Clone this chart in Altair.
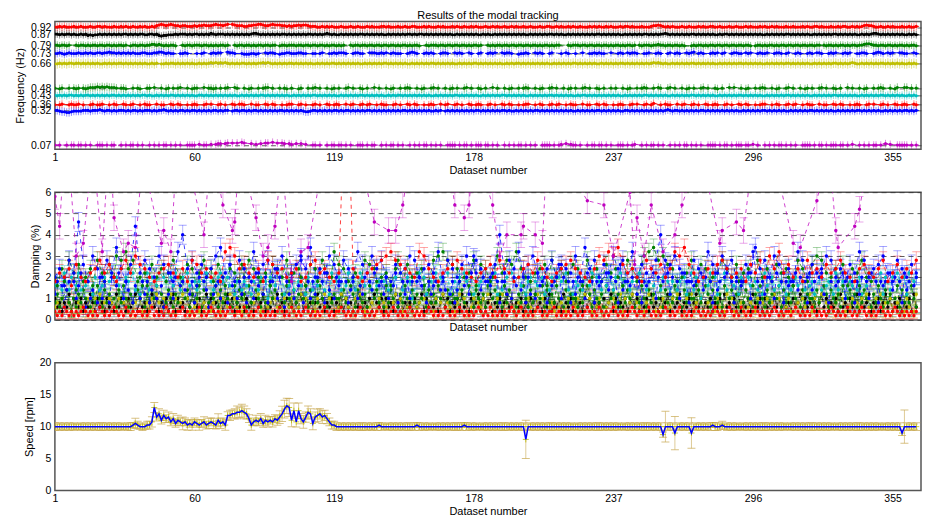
import altair as alt
import pandas as pd

N_SETS = 365
x_ticks = [1, 60, 119, 178, 237, 296, 355]
mode_labels = ["0.92", "0.87", "0.79", "0.73", "0.66", "0.48", "0.43", "0.36", "0.32", "0.07"]
mode_freqs = [0.92, 0.87, 0.79, 0.73, 0.66, 0.48, 0.43, 0.36, 0.32, 0.07]
mode_colors = ["#ff0000", "#000000", "#008000", "#0000ff", "#bfbf00",
               "#008000", "#00bfbf", "#ff0000", "#0000ff", "#bf00bf"]
freq_err = [0.03, 0.028, 0.028, 0.028, 0.035, 0.03, 0.028, 0.028, 0.03, 0.028]
damp_err = [0.15, 0.25, 0.3, 0.35, 0.3, 0.4, 0.35, 0.4, 0.45, 0.6]
damp_ticks = [0, 1, 2, 3, 4, 5, 6]
speed_ticks = [0, 5, 10, 15, 20]

# frequency: digit d -> mode + (d-5)*0.005 Hz ; "." = mode not identified
FREQ_STEP = 0.005
freq_092 = """5565655565 5655565566 5655565565 6556556565 5657898789 8776776667 6778777898 8789.98777
6677889987 7898887767 6778788766 6556565655 5655565565 5565655566 5655565565 5665556565 5565655565
6556556565 5565565655 6556565565 5655565566 5565655656 5565556565 6556565556 5665655565 5567787656
5655565565 5565655665 5655565565 5565655565 6556565556 5565556565 5665655565 5656655656 5678776556
5565655565 56556"""
freq_087 = """5545455454 4545343445 4545454545 5454545544 5545323344 4545554545 5454546545 5545454545
4545665454 5454545545 4545454554 5454565454 4545454545 5454545454 4545454545 5454554545 4545454544
5454545454 4545445454 5454545454 4545454545 5454544545 4545454545 5454545454 4545454545 5454545565
4545454545 5454545454 4545545454 5454545454 4545454545 5454545454 4545454545 5454545454 4545456654
5454545454 45454"""
freq_079 = """5545545..5 4554545545 5455454554 5.45545545 5665654545 54..545545 5545545454 5545..5455
4554545545 5455.45545 5545545545 5455454554 545..54554 5545545545 5455454554 54554..545 5545545545
5455454554 5..5454554 5545545545 5455454554 5455...545 5545545545 5455454554 545545.545 5545565545
5455454..4 5455454554 5545545545 54554.4554 5455454554 5545545545 5455.54554 5455454554 5567765545
5455454554 54554"""
freq_073 = """5565456555 6556565566 5667665656 5656555665 5566776565 5..5565... 5.56..5656 6..7665..5
4445545..6 5665.45566 5556655..5 5.56..5565 6665..5665 5..6665565 6.56555..5 6765..5656 5..5665..6
565..65..5 6..5656..6 5665..4556 5..6565..5 6...5.65.. 5..6..5565 655..6..56 5.65665..5 56..565..5
6.565..656 7.565..565 6.56..5665 5.656..565 56..5665.5 6..565..56 5.665..565 6..5656..5 5665..5676
5.656..665 5..65"""
freq_066 = """4454545545 5454545454 4545454554 5454545454 4545.44545 5454545454 4545456565 6565454545
5454545565 6545454545 5454545454 4545454554 5454545454 4545454545 5454545454 4545454545 5454545454
4545454554 5454545454 4545455454 5454545454 4545454545 5454545454 4545454545 5454545454 5456565454
4545454545 5454545454 4545454545 5454545454 4545454545 5454545454 4545454545 5454545654 4545454545
5454545454 45454"""
freq_048 = """5.45..5.54 5.54566676 7676665.55 4..5.54..5 5.6..5.45. 5.56..5.45 5..6.5545. 5.56..65..
5.45..5.56 6.5..5.54. 5..45..5.5 6.5..5.45. 5..56.5..5 4.5..6.5.. 5.45..5.56 5..5.45..5 6.5..5.45.
5..56.5..5 4.5..6.5.. 5.45..5.56 5..5.45..5 6.5..5.45. 5..56.5..5 4.5..5.5.. 5.45..5.56 5..5.65..5
6.5..5.45. 5..56.5..5 4.5..6.6.. 5.45..5.56 5..5.45..5 6.5..5.45. 5..56.5..5 4.5..6.5.. 5.45..5.56
5..5.46..6 6.5.5"""
freq_043 = """5454545545 4545545454 5454554545 4545454554 5445454545 5454545454 4554545454 5454545445
4545454554 5454545454 4545454545 5454545454 4545454545 5454545454 4545455454 5454545454 4545454545
5454545454 4545454545 5454545454 4545454545 5454545454 4545545454 5454545454 4545454545 5454545454
4545454545 5454545454 4545454545 5454545454 4545454545 5454545454 4545454545 5454545454 4545454545
5454545454 45454"""
freq_036 = """5.56..5655 6.5..56.55 6..5.65..6 5.56..5.65 5..6.55..6 5.65..5.56 5..56.6..5 6.5..65.66
5..6.55..6 5.65..5.56 6..56.5..5 6.5..65.56 5..6.56..5 6.56..5.65 5..56.5..6 5.65..5.56 5..6.56..5
6.5..65.56 5..56.5..6 5.65..5.56 6..5.65..5 6.56..5.65 5..6.55..6 5.65..5.56 5..56.6..5 6.57..5.65
5..6.56..5 6.5..65.56 5..56.5..6 5.65..5.56 6..5.65..5 6.56..5.65 5..6.55..6 5.65..5.56 5..56.6..5
6.5..65.56 5..65"""
freq_032 = """5543322344 4455545556 5455454555 4545545455 5454556545 4545545455 4545454554 5455.45545
5454554545 4545455454 5454543345 5454545455 4545545454 5455454545 4545454554 5454545454 4545.45454
5454545455 4545454545 5454454545 4545545454 5454545454 4545454545 5454545454 4554545454 5454545456
5455454545 4545545454 5454545454 4545454545 5454545454 4545454545 5454545454 4545454545 5454545454
4545454545 54545"""
freq_007 = """5.5..5.55. 55.5.5..55 5.5.55..5. 5.55.5.5.. 5.5.5.55.5 .5.5..5555 .6.55.6.67 7.78.8.8.9
8..7.6.7.8 8.9.8.87.7 6.7.7.6..5 5.5..5.55. 55.5.5..55 5.5.55..5. 5.55.5.5.. 5.5.5.55.5 .5.5..5555
.5.55.5.55 5.55.5.5.. 5.5.5.55.5 .5.5..5555 .5.56.7.65 5.5..5.55. 55.5.5..55 5.5.56..5. 5.55.5.5..
5.5.5.55.5 .5.5..5555 .5.55.5.55 5.55.6.5.. 5.5.5.55.5 .5.5..5555 .5.55.5.55 5.55.5.6.. 5.5.5.55.5
.7.6..5555 5.5.5"""

# damping: character index in DAMP_CHARS * 0.2 % ; "." = not identified
DAMP_CHARS = "0123456789ABCDEFGHIJKLMNOPQRSTUVWXYZabcdefghijklmnopqrstuvwxyz"
DAMP_STEP = 0.2
damp_092 = """2121321212 1232121213 2121232121 3212122121 2312121321 2122312121 2312123212 1212321221
3212123121 2121232121 3212123212 1212321212 2321212123 2121212321 2123212121 3212121232 1212132121
2321212123 2121312121 2123212312 1212321212 2312121213 2121232121 3212123212 1212321221 2312121232
1212312121 2321212123 2121232121 3212123212 1212321212 2123212121 3212121232 1212132121 2321212123
2121232121 21212"""
damp_087 = """5342436254 3524364253 4253426354 2534625342 4635243524 6253425364 3524635243 5246352436
2534253462 4352634253 5243625342 4635243524 3625342536 2435264352 5342635243 4253462534 3524635243
5263425346 2534624352 4635243524 3526342536 2435264352 5342635243 4253462534 3524635243 5263425346
2534624352 4635243524 3526342536 2435264352 5342635243 4253462534 3524635243 5263425346 2534624352
4635243524 35263"""
damp_079 = """4635.74253 6475.36485 3746.53748 5364.75836 4758.63475 3648.57364 5837.46583 7465.38475
6384.75364 4857.36485 3746.58374 6485.37465 5374.86375 4638.57463 8475.36485 3746.58374 6485.37465
5374.86375 4638.57463 8475.36485 3746.58374 6485.37465 5374.86375 4638.57463 8475.36485 3746.58374
6485.37465 5374.86375 4638.57463 8475.36485 3746.58374 6485.37465 5374.86375 4638.57463 8475.36485
3746.58374 64853"""
damp_073 = """69.8379.95 8B.3.57.4A 59.4A.8B.5 97.48.5969 47.5.83.6B 5A.897.694 8A.973.689 5A.4D8.596
A4.95B8.6A 49.C5A.396 B5.8F4.959 6A.94B7.5A 89.9479.58 6A.97B.896 A5.8B4.969 59.9A8.496 89.7A7.694
79.8A6.FB. 7A.98B.949 96.5A8.7C4 A6.5B8.A4. 89.D5A.949 6A.95B.949 89.B7A.94D 79.8A.6949 89.B5A.9EB
6A.95B.949 89.B7A.94B 79.AB.949. 89.B5G.949 6A.95B.949 89.B7A.94B 79.AB6.49. 89.B5A.949 6A.95B.949
89.B7A.94B 79.8A"""
damp_066 = """34.53.42.3 43.25.25.6 34.54.35.4 53.24.52.4 25.64.53.6 35.46.52.3 52.43.24.6 25.36.53.2
63.24.62.4 34.53.25.3 52.36.53.4 25.26.54.2 36.53.25.6 42.34.25.4 35.46.52.3 52.34.53.6 25.46.43.2
46.52.35.4 35.63.25.6 24.52.43.2 53.26.52.3 42.34.25.4 35.46.52.3 52.34.53.6 25.46.43.2 46.52.35.4
35.63.25.6 24.52.43.2 53.26.52.3 42.34.25.4 35.46.52.3 52.34.53.6 25.46.43.2 46.52.35.4 35.63.25.6
24.52.43.2 53.26"""
damp_048 = """A8.C9.E.B7 D.9A.C8.E.B 9.D.AF.E.G C.E.9A.B8. D.A.C.9B.E ..A9.D.C.8 B.EA.C9.D. A8.C.B.9DA
.E.C.A9.B. 8D.C.A.E9. B.CA.8.D.C 9.E.B.AG.D .C.9.AB.8. E.D.C9.A.B .8.CE.9.D. A.B.C8.9.E .F.G.E.D.C
9.A.B.E8.D .C.9A.F.B. E.D.G.C.A. 9.B.C.D8.E .A.C.9B.D. C.8.E.A.C. 9.D.B.CA.8 .E.C.9.DF. G.H.E.F.D.
C.9.A.B.E. 8.D.C.9A.B .E.C.A.D9. B.C.8.E.A. C.9.D.B.CA .8.E.C.9.D .F.E.B.A.C 9.D.8.C.B. E.A.9"""
damp_043 = """89.7B.7A.8 B7.89.6A.7 8A.9B.A8.5 A9.B7.69.B 7A.8B.A9.A 8B.7A.B8.9 79.9B.97.A B9.A8.69.7
98.69.7A.9 5A.8B.A6.8 B7.98.6A.7 A8.97.6B.9 A7.8B.97.B A8.97.89.9 A7.8A.B7.A 95.9B.A6.9 8B.A9.B6.9
7A.B9.A6.8 9A.98.B6.7 9A.B9.A8.6 9A.98.A6.7 A9.A9.B7.6 98.7A.8B.A 97.8B.7A.B 89.79.9B.9 79.8B.7A.9
69.79.A6.B 7A.5A.8B.A 69.B7.98.6 A9.A8.97.6 B8.A7.89.6 97.A8.97.8 96.A7.89.6 B7.95.98.7 A6.8B.A9.B
6A.7A.B9.A 6B.9A"""
damp_036 = """9.B.A.C8.D .A.9.B.C.E .B.D.A9.C. E.B.F.D.C. A.9.B.C.D. B.A.C.9.E. D.B.C.A.B. 9.G.H.F.C.
D.B.A.C.9. E.D.B.C.A. B.C.9.A.D. E.B.C.A.9. B.k.n.C.A. 9.B.C.D.E. F.G.E.D.C. B.A.G.F.C. A.9.B.C.D.
E.C.B.A.9. B.C.D.A.E. C.B.9.A.C. D.B.E.C.A. 9.B.C.D.E. C.B.A.9.C. F.E.G.F.H. D.B.C.A.9. E.C.B.D.A.
C.G.F.H.D. B.9.A.C.B. D.E.C.A.B. C.9.D.B.E. A.F.C.G.B. D.A.C.9.E. B.C.A.D.B. C.E.B.A.9. C.D.B.A.C.
E.9.B.D.A. C.B.E"""
damp_032 = """A.C.8.E.B. N.D.9.F.C. A.E.B.H.C. 9.D.M.B.E. C.A.F.D.B. 9.G.K.C.E. B.D.A.C.F. H.B.D.9.E.
C.A.G.B.D. E.9.C.F.A. B.D.E.C.H. A.C.B.F.D. 9.E.C.A.G. D.B.F.C.E. A.9.D.B.C. F.E.A.C.D. B.G.9.E.C.
A.D.F.B.E. C.9.A.D.K. B.E.C.G.A. D.F.B.9.C. E.A.D.C.B. F.9.H.C.E. A.D.B.F.C. E.9.G.A.D. B.C.E.K.A.
D.F.C.B.9. E.C.A.G.D. B.F.C.E.A. 9.D.B.H.C. E.A.F.D.B. C.9.G.E.A. D.B.C.F.E. A.C.9.D.B. G.E.A.C.D.
F.B.9.E.C. A.D.B"""
damp_007 = """T.M.e.b..F ..I...f... G..h.O...G .I..H..c.. .....IL..G ..j.h..... ...K..f... .R...LN.e.
.....O..F. H..M..c... 9...G..H.. ....e..... ..i...j... .....N.... .L..L..R.. .f....c... .....g...R
...O.R.f.. .....R..F. .K.....KM. ...K..I.e. ....c..... .....S.... ..R...F... ...U.DO..F ..R....G..
..K..R.... ...e...... .IL.....N. .L....h... ....c..... ..I..H.... ..S....f.. LH......M. Q....g....
..e....... .h..."""

# rotor speed: character index in SPEED_CHARS -> 8 + 0.25*i rpm, error -> 0.2*i rpm
SPEED_CHARS = "0123456789ABCDEFGHIJKL"
speed_code = """8888888888 8888888888 8888888888 8889A98889 9BKEGCFDEB DACBAB9A9B A9AB9ABA9C AB9FFGGHHI
HGD9BCBDAC BCBDCEGJLK CIBIDBEHGA EFGEFDB998 8888888888 8888888988 8888888888 8889888888 8888888888
8889888888 8888888888 8888888880 8888888888 8888888888 8888888888 8888888888 8888888888 8888888388
8848888884 8888888898 8898888888 8888888888 8888888888 8888888888 8888888888 8888888888 8888888888
8888888848 88888"""
speed_err_code = """3232323232 2323232323 3232323232 2332432323 3443434343 4343534343 3434343435 4343434545
5434343434 4343456767 5646454545 4545443333 2323232323 3232323232 2323232323 3232323232 2323232323
3232323232 2323232323 323232323F 2323232323 3232323232 2323232323 3232323232 2323232323 32323232C3
23D232323C 2323232323 3232323232 2323232323 3232323232 2323232323 3232323232 2323232323 3232323232
232323232D 32323"""

freq_codes = [freq_092, freq_087, freq_079, freq_073, freq_066,
              freq_048, freq_043, freq_036, freq_032, freq_007]
damp_codes = [damp_092, damp_087, damp_079, damp_073, damp_066,
              damp_048, damp_043, damp_036, damp_032, damp_007]
draw_order = [1, 4, 2, 6, 5, 3, 8, 7, 0, 9]


def clean(s):
    return "".join(s.split())[:N_SETS]


freq_rows, damp_rows = [], []
for i in draw_order:
    lab = mode_labels[i]
    for k, ch in enumerate(clean(freq_codes[i])):
        if ch == ".":
            continue
        f = mode_freqs[i] + (int(ch) - 5) * FREQ_STEP
        freq_rows.append(dict(ds=k + 1, mode=lab, v=f, lo=f - freq_err[i], hi=f + freq_err[i],
                              xl=k + 1 - 1.2, xr=k + 1 + 1.2))
    for k, ch in enumerate(clean(damp_codes[i])):
        if ch == ".":
            continue
        d = DAMP_CHARS.index(ch) * DAMP_STEP
        damp_rows.append(dict(ds=k + 1, mode=lab, v=d, lo=d - damp_err[i], hi=d + damp_err[i]))

speed_rows = []
for k, (ch, ce) in enumerate(zip(clean(speed_code), clean(speed_err_code))):
    s = 8 + SPEED_CHARS.index(ch) * 0.25
    e = SPEED_CHARS.index(ce) * 0.2
    speed_rows.append(dict(ds=k + 1, v=s, lo=s - e, hi=s + e))

freq_df = pd.DataFrame(freq_rows)
damp_df = pd.DataFrame(damp_rows)
speed_df = pd.DataFrame(speed_rows)

FONT = "Liberation Sans"
W, H = 868, 128
xs = alt.Scale(domain=[1, 367], nice=False, zero=False)
cscale = alt.Scale(domain=mode_labels, range=mode_colors)
col = alt.Color("mode:N", scale=cscale, legend=None)


def xax(labels=True, lp=3, tp=2):
    return alt.Axis(values=x_ticks, title="Dataset number", labels=labels, ticks=False,
                    grid=False, labelFlush=False, labelPadding=lp, titlePadding=tp)


def panel(df, yscale, yaxis, labels=True, caps=False, err_opacity=0.3):
    base = alt.Chart(df)
    X = alt.X("ds:Q", scale=xs, axis=xax(labels))

    def Y(field):
        return alt.Y(field, type="quantitative", scale=yscale, axis=yaxis)
    layers = [
        base.mark_rule(opacity=err_opacity, strokeWidth=1, clip=True).encode(x=X, y=Y("lo"), y2="hi:Q", color=col),
    ]
    if caps:
        layers += [
            base.mark_tick(orient="horizontal", size=8, thickness=1, opacity=0.35, clip=True).encode(x=X, y=Y("lo"), color=col),
            base.mark_tick(orient="horizontal", size=8, thickness=1, opacity=0.35, clip=True).encode(x=X, y=Y("hi"), color=col),
        ]
    return base, X, Y, layers


# ---- frequency panel
fy = alt.Scale(domain=[0.04, 0.96], nice=False, zero=False)
fax = alt.Axis(values=mode_freqs, format=".2f", title="Frequency (Hz)", grid=True, gridDash=[5, 4],
               gridColor="#333333", gridOpacity=0.8, labelOverlap=False, labelFlush=False,
               ticks=False, labelPadding=4, titlePadding=5)
fb, FX, FY, flayers = panel(freq_df, fy, fax, err_opacity=0.45)
flayers += [
    fb.mark_rule(opacity=0.9, strokeWidth=1, clip=True).encode(x=alt.X("xl:Q", scale=xs, axis=xax()), x2="xr:Q", y=FY("v"), color=col),
    fb.mark_line(strokeDash=[5, 3], strokeWidth=1, opacity=0.85, clip=True).encode(x=FX, y=FY("v"), color=col, detail="mode:N"),
    fb.mark_circle(size=10, opacity=1, clip=True).encode(x=FX, y=FY("v"), color=col),
]
top = alt.layer(*flayers).properties(
    width=W, height=H,
    title=alt.TitleParams("Results of the modal tracking", fontSize=11, fontWeight="normal",
                          font=FONT, color="#000000", offset=1, anchor="middle"))

# ---- damping panel
dy = alt.Scale(domain=[0, 6], nice=False, zero=False)
dax = alt.Axis(values=damp_ticks, format="d", title="Damping (%)", grid=True, gridDash=[5, 4],
               gridColor="#333333", gridOpacity=0.8, labelOverlap=False, labelFlush=False,
               ticks=False, labelPadding=4, titlePadding=5)
db, DX, DY, dlayers = panel(damp_df, dy, dax, labels=False, caps=True)
dlayers += [
    db.mark_line(strokeDash=[4, 4], strokeWidth=1, opacity=0.75, clip=True).encode(x=DX, y=DY("v"), color=col, detail="mode:N"),
    db.mark_circle(size=12, opacity=1, clip=True).encode(x=DX, y=DY("v"), color=col),
]
mid = alt.layer(*dlayers).properties(width=W, height=H)

# ---- speed panel
sy = alt.Scale(domain=[0, 20], nice=False, zero=False)
sax = alt.Axis(values=speed_ticks, format="d", title="Speed [rpm]", grid=False, labelOverlap=False,
               labelFlush=False, ticks=False, labelPadding=4, titlePadding=5)
sb = alt.Chart(speed_df)
SX = alt.X("ds:Q", scale=xs, axis=xax())


def SY(field):
    return alt.Y(field, type="quantitative", scale=sy, axis=sax)


ERRC = "#c8a850"
slayers = [
    sb.mark_rule(color=ERRC, opacity=0.6, strokeWidth=1, clip=True).encode(x=SX, y=SY("lo"), y2="hi:Q"),
    sb.mark_tick(orient="horizontal", size=8, thickness=1, color=ERRC, opacity=0.7, clip=True).encode(x=SX, y=SY("lo")),
    sb.mark_tick(orient="horizontal", size=8, thickness=1, color=ERRC, opacity=0.7, clip=True).encode(x=SX, y=SY("hi")),
    sb.mark_point(shape="M-1,0L1,0M0,-1L0,1", size=36, filled=False, strokeWidth=1,
                  color="#bfbf00", opacity=0.8, clip=True).encode(x=SX, y=SY("v")),
    sb.mark_line(color="#0000ff", strokeWidth=1.5, clip=True).encode(x=SX, y=SY("v")),
]
bot = alt.layer(*slayers).properties(width=W, height=H)

chart = alt.vconcat(top, mid, bot, spacing=43, bounds="flush").properties(
    padding={"left": 5, "top": 0, "right": 0, "bottom": 0}
).configure_view(
    stroke="#555555", strokeWidth=1.5
).configure_axis(
    domain=False, labelFont=FONT, titleFont=FONT, labelFontSize=10.5, titleFontSize=11,
    labelColor="#000000", titleColor="#000000", titleFontWeight="normal"
)

chart.save("out.html", embed_options={"renderer": "svg", "actions": False})
